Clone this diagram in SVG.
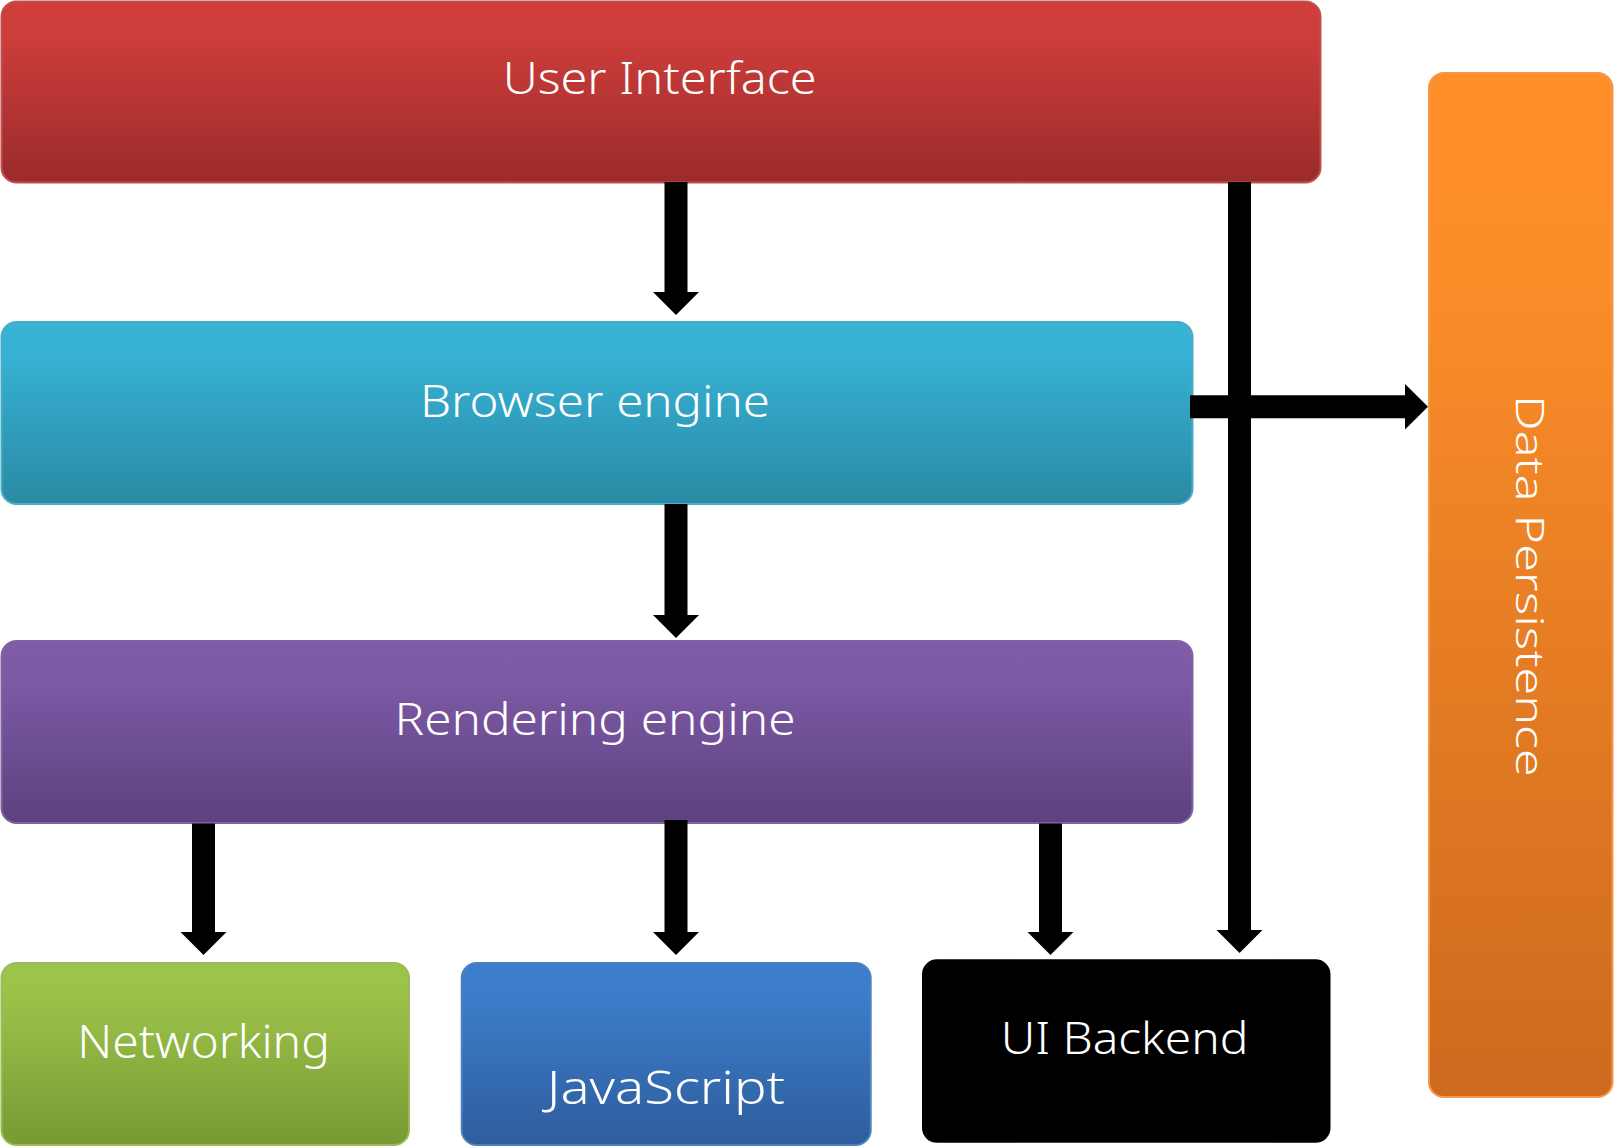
<svg xmlns="http://www.w3.org/2000/svg" width="1614" height="1147" viewBox="0 0 1614 1147">
<defs>
<linearGradient id="gRed" x1="0" y1="0" x2="0" y2="1"><stop offset="0" stop-color="#D03E3B"/><stop offset="0.2" stop-color="#CC3D3B"/><stop offset="1" stop-color="#9B2B2B"/></linearGradient>
<linearGradient id="gAqua" x1="0" y1="0" x2="0" y2="1"><stop offset="0" stop-color="#38B4D7"/><stop offset="0.2" stop-color="#36B0D3"/><stop offset="1" stop-color="#2A8AA4"/></linearGradient>
<linearGradient id="gPurple" x1="0" y1="0" x2="0" y2="1"><stop offset="0" stop-color="#7F5BA8"/><stop offset="0.2" stop-color="#7D5AA6"/><stop offset="1" stop-color="#5D417F"/></linearGradient>
<linearGradient id="gGreen" x1="0" y1="0" x2="0" y2="1"><stop offset="0" stop-color="#9DC44A"/><stop offset="0.2" stop-color="#9BC149"/><stop offset="1" stop-color="#779A34"/></linearGradient>
<linearGradient id="gBlue" x1="0" y1="0" x2="0" y2="1"><stop offset="0" stop-color="#3D7ECC"/><stop offset="0.2" stop-color="#3C7CC9"/><stop offset="1" stop-color="#2E5D9C"/></linearGradient>
<linearGradient id="gOrange" x1="0" y1="0" x2="0" y2="1"><stop offset="0" stop-color="#FF8F2A"/><stop offset="0.2" stop-color="#FB8D29"/><stop offset="1" stop-color="#CD6A1E"/></linearGradient>
</defs>
<style>
.box{stroke-width:2}
.lbl{font-family:"Noto Sans","Liberation Sans",sans-serif;font-size:44px;font-weight:300;fill:#ffffff}
.arr{fill:#000000}
</style>
<g id="user-interface">
<rect class="box" x="1.5" y="1.5" width="1319" height="181" rx="15" fill="url(#gRed)" stroke="#C0504D"/>
<text class="lbl" x="502.7" y="94" textLength="314" lengthAdjust="spacingAndGlyphs">User Interface</text>
</g>
<g id="browser-engine">
<rect class="box" x="1.5" y="322" width="1191" height="182" rx="15" fill="url(#gAqua)" stroke="#4BACC6"/>
<text class="lbl" x="420" y="417" textLength="350" lengthAdjust="spacingAndGlyphs">Browser engine</text>
</g>
<g id="rendering-engine">
<rect class="box" x="1.5" y="641" width="1191" height="182" rx="15" fill="url(#gPurple)" stroke="#8064A2"/>
<text class="lbl" x="394.5" y="735" textLength="401" lengthAdjust="spacingAndGlyphs">Rendering engine</text>
</g>
<g id="networking">
<rect class="box" x="1.5" y="963" width="407.5" height="182" rx="15" fill="url(#gGreen)" stroke="#9BBB59"/>
<text class="lbl" x="77.3" y="1058.3" style="font-size:46px" textLength="252.7" lengthAdjust="spacingAndGlyphs">Networking</text>
</g>
<g id="javascript">
<rect class="box" x="461.7" y="963" width="409" height="182" rx="15" fill="url(#gBlue)" stroke="#4F81BD"/>
<text class="lbl" x="546.7" y="1104" style="font-size:45px" textLength="238.3" lengthAdjust="spacingAndGlyphs">JavaScript</text>
</g>
<g id="ui-backend">
<rect x="922" y="959.3" width="408.5" height="183.5" rx="15" fill="#000000"/>
<text class="lbl" x="1000.7" y="1054" textLength="247.6" lengthAdjust="spacingAndGlyphs">UI Backend</text>
</g>
<g id="data-persistence">
<rect class="box" x="1429" y="73" width="183.5" height="1024" rx="15" fill="url(#gOrange)" stroke="#F79646"/>
<text class="lbl" transform="translate(1515.5,395) rotate(90)" x="0" y="0" style="font-size:38px" textLength="381.7" lengthAdjust="spacingAndGlyphs">Data Persistence</text>
</g>
<g id="connectors">
<polygon class="arr" points="664.5,182 687.5,182 687.5,292 699,292 676,315 653,292 664.5,292"/>
<polygon class="arr" points="664.5,504 687.5,504 687.5,615 699,615 676,638 653,615 664.5,615"/>
<polygon class="arr" points="1190,395.2 1405,395.2 1405,384 1428,406.7 1405,429.4 1405,418.2 1190,418.2"/>
<polygon class="arr" points="1228,182 1251,182 1251,930 1262.5,930 1239.5,953 1216.5,930 1228,930"/>
<polygon class="arr" points="192,823.5 215,823.5 215,932 226.5,932 203.5,955 180.5,932 192,932"/>
<polygon class="arr" points="664.5,820 687.5,820 687.5,932 699,932 676,955 653,932 664.5,932"/>
<polygon class="arr" points="1039,823.5 1062,823.5 1062,932 1073.5,932 1050.5,955 1027.5,932 1039,932"/>
</g>
</svg>
